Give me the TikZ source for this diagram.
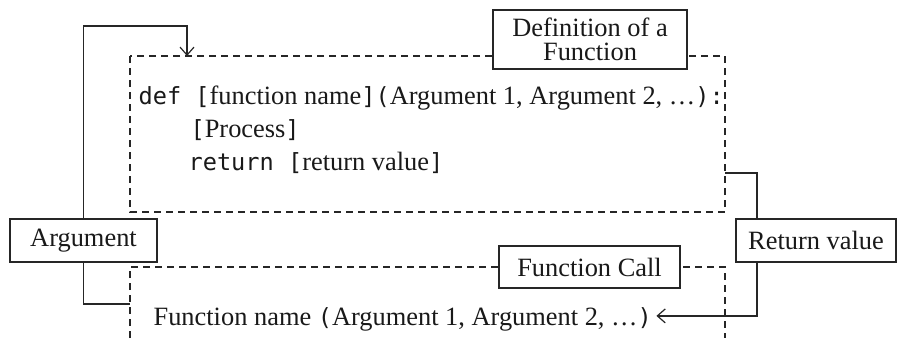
\documentclass[tikz,border=0pt]{standalone}
\usepackage{fontspec}
\setmainfont{Liberation Serif}
\newfontfamily\codefont{DejaVu Sans Mono}
\usepackage{tikz}
\usetikzlibrary{arrows.meta,positioning,calc}

\newcommand{\cd}[1]{{\codefont\fontsize{11.8}{13}\selectfont #1}}

\begin{document}
\begin{tikzpicture}[x=0.5pt, y=-0.5pt, line width=0.6pt, black!85,
  every node/.style={font=\fontsize{13.2}{13}\selectfont, text=black!90},
  frame/.style={dashed, dash pattern=on 3.5pt off 2.5pt},
  labelbox/.style={draw, fill=white, inner sep=0pt, align=center},
  arr/.style={-{Straight Barb[length=4pt, width=7pt]}}]
\useasboundingbox (0,0) rectangle (897,338);
% frames
\draw[frame] (130,56) rectangle (725,212);
\draw[frame] (130,338) -- (130,267) -- (725,267) -- (725,338);
% titles
\node[labelbox, minimum width=97pt, minimum height=29.5pt] (deftitle) at (590,39.5) {Definition of a\\[-1pt]Function};
\node[labelbox, minimum width=90.5pt, minimum height=21pt] (calltitle) at (589.5,267) {Function Call};
\node[labelbox, minimum width=73.5pt, minimum height=21.5pt] (arg) at (83.5,240.5) {Argument};
\node[labelbox, minimum width=80pt, minimum height=21.5pt] (ret) at (816,240.5) {Return value};
% code
\node[anchor=base west, inner sep=0pt] (line1) at (138,104) {\cd{def }\cd{[}function name\cd{](}Argument 1, Argument 2, \dots\cd{):}};
\node[anchor=base west, inner sep=0pt] (line2) at (190,137) {\cd{[}Process\cd{]}};
\node[anchor=base west, inner sep=0pt] (line3) at (188,170) {\cd{return }\cd{[}return value\cd{]}};
\node[anchor=base west, inner sep=0pt] (calltext) at (153,325) {Function name \cd{(}Argument 1, Argument 2, \dots\cd{)}};
% ends
\coordinate (argtop) at (187,26);
\coordinate (argin) at (187,56);
\coordinate (callin) at (130,304);
\coordinate (defout) at (725,173);
\coordinate (rv) at (757,240);
% connectors
\draw[arr] (arg.north) |- (argtop) -- (argin);
\draw (arg.south) |- (callin);
\draw (defout) -| (rv |- ret.north);
\draw[arr] (rv |- ret.south) |- ([xshift=2pt, yshift=1.5pt]calltext.east);
\end{tikzpicture}
\end{document}
